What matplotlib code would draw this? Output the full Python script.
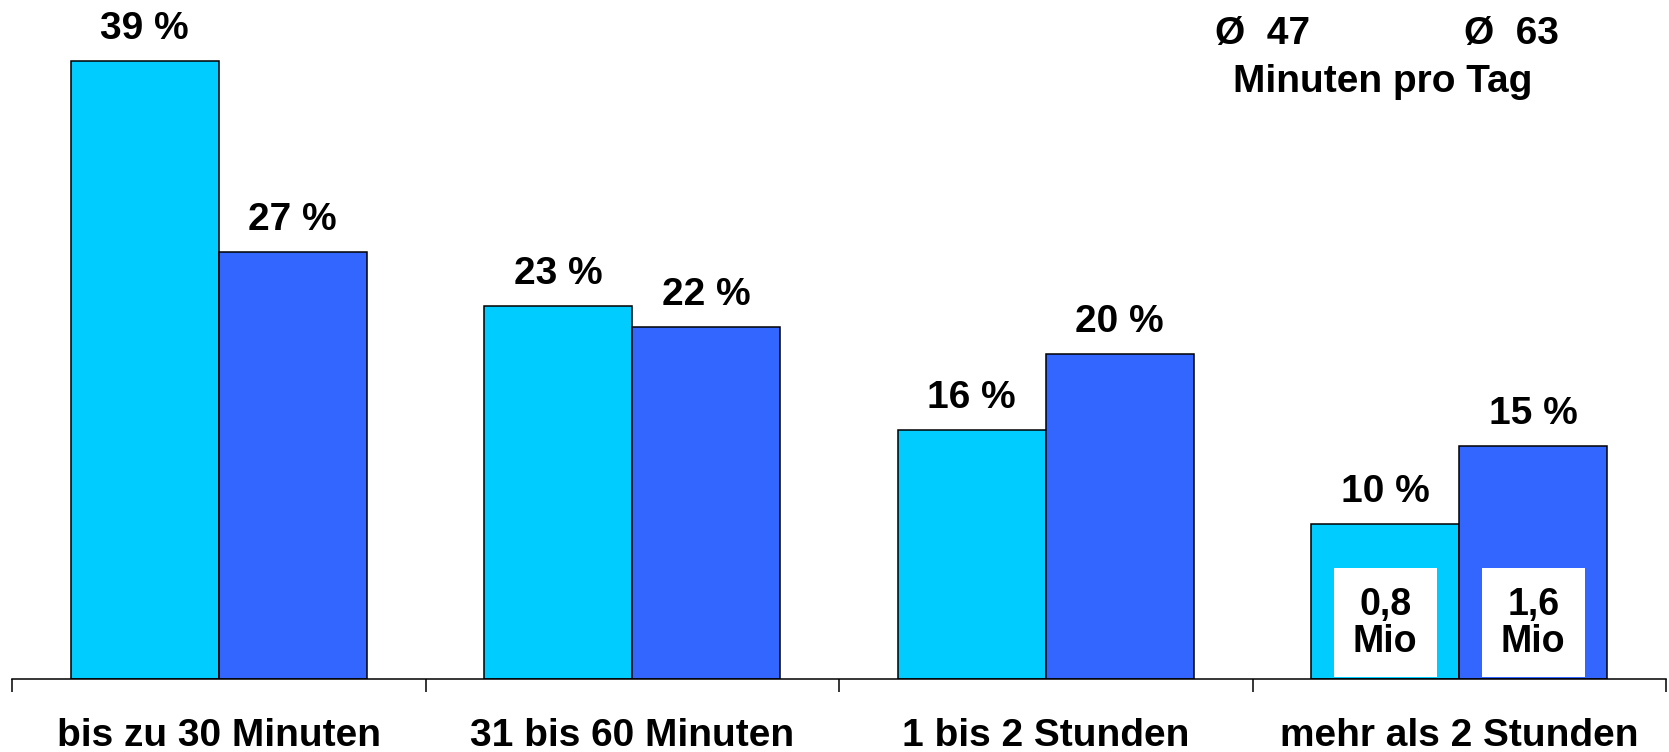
import numpy as np
import matplotlib.pyplot as plt
from matplotlib.patches import Rectangle

plt.rcParams['font.family'] = ['Liberation Sans', 'DejaVu Sans']
plt.rcParams['font.weight'] = 'bold'

# Daten
kategorien = ['bis zu 30 Minuten', '31 bis 60 Minuten', '1 bis 2 Stunden', 'mehr als 2 Stunden']
werte_a = [38.96, 23.5, 15.7, 9.75]     # Balkenhöhen
werte_b = [26.9, 22.2, 20.5, 14.7]
labels_a = ['39 %', '23 %', '16 %', '10 %']
labels_b = ['27 %', '22 %', '20 %', '15 %']
mio_labels = ['0,8\nMio', '1,6\nMio']
schnitt_labels = ['Ø  47', 'Ø  63']

farbe_a = '#00CCFF'
farbe_b = '#3366FF'

fig = plt.figure(figsize=(16.69, 7.52), dpi=100)
ax = fig.add_axes([12/1669, 73/752, 1654/1669, 679/752])

x = np.arange(len(kategorien))
w = 0.358
bars_a = ax.bar(x - w/2, werte_a, w, color=farbe_a, edgecolor='black', linewidth=1.1)
bars_b = ax.bar(x + w/2, werte_b, w, color=farbe_b, edgecolor='black', linewidth=1.1)

# Prozentwerte über den Balken
for bars, werte, labs in [(bars_a, werte_a, labels_a), (bars_b, werte_b, labels_b)]:
    for b, v, t in zip(bars, werte, labs):
        ax.annotate(t, (b.get_x() + b.get_width()/2, v),
                    xytext=(0, 16), textcoords='offset points',
                    ha='center', va='baseline', fontsize=28, fontweight='bold')

# weiße Kästen mit Mio-Angaben in der letzten Gruppe
for b, txt in zip([bars_a[-1], bars_b[-1]], mio_labels):
    cx = b.get_x() + b.get_width()/2
    bw = 103/413.5
    ax.add_patch(Rectangle((cx - bw/2, 0.13), bw, 6.87, facecolor='white',
                           edgecolor='none', zorder=3))
    ax.text(cx, 3.5, txt, ha='center', va='center', fontsize=27,
            fontweight='bold', linespacing=1.05, zorder=4)

ax.set_xlim(-0.5, len(kategorien) - 0.5)
ax.set_ylim(0, 42.8)

for s in ['top', 'right', 'left']:
    ax.spines[s].set_visible(False)
ax.spines['bottom'].set_linewidth(1.1)
ax.set_yticks([])

ax.set_xticks(x)
ax.set_xticklabels(kategorien, fontsize=28, fontweight='bold')
ax.tick_params(axis='x', which='major', length=0, pad=28)
ax.set_xticks(np.arange(len(kategorien) + 1) - 0.5, minor=True)
ax.tick_params(axis='x', which='minor', length=9.5, width=1.1, direction='out')

# Durchschnitt oben rechts
fig.text(1263/1669, 1 - 34/752, schnitt_labels[0], ha='center', va='center',
         fontsize=28, fontweight='bold')
fig.text(1511/1669, 1 - 34/752, schnitt_labels[1], ha='center', va='center',
         fontsize=28, fontweight='bold')
fig.text(1383/1669, 1 - 82/752, 'Minuten pro Tag', ha='center', va='center',
         fontsize=28, fontweight='bold')

fig.savefig('out.png', dpi=100)
